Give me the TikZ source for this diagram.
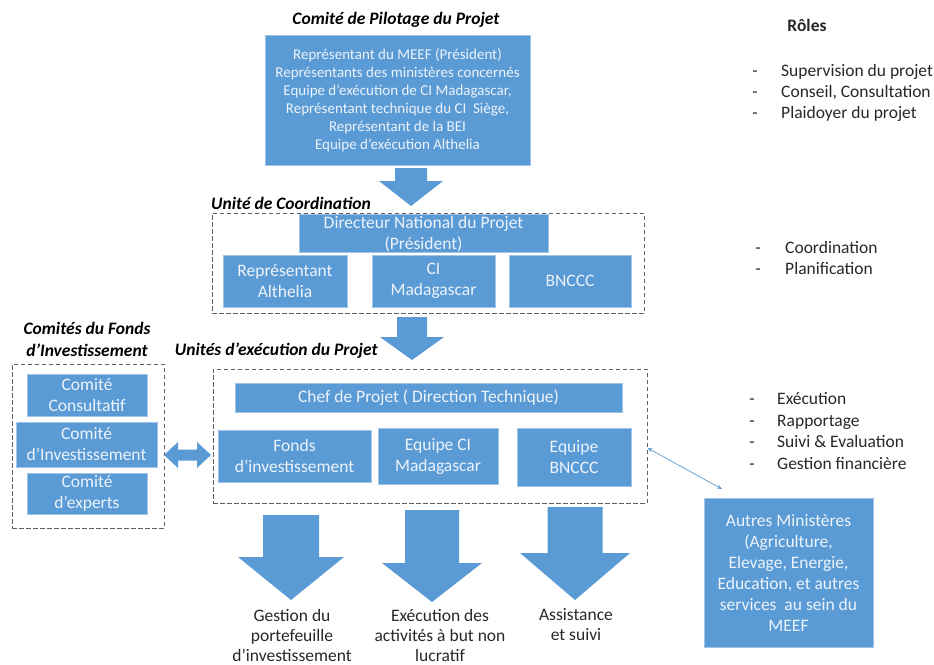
\documentclass[tikz,border=0pt]{standalone}
\usepackage{fontspec}
\setmainfont{Carlito}
\usetikzlibrary{arrows.meta}
\definecolor{boxblue}{RGB}{91,155,213}
\definecolor{boxedge}{RGB}{160,195,232}
\definecolor{boxtext}{RGB}{236,243,250}
\definecolor{dashgray}{RGB}{95,95,95}
\definecolor{roletext}{RGB}{40,40,40}
\newcommand\dnarrow[6]{% cx, shafttop, headtop, tip, shaft half width, head half width
  \fill[boxblue] ({#1-#5},#2) -- ({#1+#5},#2) -- ({#1+#5},#3) -- ({#1+#6},#3) -- (#1,#4) -- ({#1-#6},#3) -- ({#1-#5},#3) -- cycle;}
\begin{document}
\begin{tikzpicture}[x=1pt,y=-1pt,
  box/.style={fill=boxblue, draw=boxedge, line width=0.6pt, inner sep=0pt, text=boxtext, align=center,
    font=\fontsize{17.5}{21}\selectfont},
  boxlbl/.style={inner sep=0pt, text=boxtext, align=center, font=\fontsize{17.5}{21}\selectfont},
  dbox/.style={draw=dashgray, line width=1pt, dash pattern=on 4.5pt off 2.5pt, inner sep=0pt},
  ttl/.style={font=\bfseries\itshape\fontsize{17.5}{22}\selectfont, text=black, inner sep=0pt, align=center},
  role/.style={font=\fontsize{17.5}{21}\selectfont, text=roletext, inner sep=0pt, anchor=base west},
  dashmark/.style={font=\fontsize{17.5}{21}\selectfont, text=roletext, inner sep=0pt, anchor=base},
  lbl/.style={font=\fontsize{17.5}{20}\selectfont, text=roletext, inner sep=0pt, align=center}]
\useasboundingbox (0,0) rectangle (934,664);
\fill[white] (0,0) rectangle (934,664);

% Comite de pilotage
\node[ttl] (tpil) at (396,20) {Comité de Pilotage du Projet};
\node[box, minimum width=265pt, minimum height=130pt, font=\fontsize{15}{18}\selectfont] (pil) at (397.5,100)
 {Représentant du MEEF (Président)\\Représentants des ministères concernés\\Equipe d’exécution de CI Madagascar,\\Représentant technique du CI\ \ Siège,\\Représentant de la BEI\\Equipe d’exécution Althelia};

\dnarrow{411}{168}{181}{206}{16}{32}

% Unite de coordination
\node[ttl, anchor=west] (tcoord) at (211,203) {Unité de Coordination};
\node[dbox, minimum width=432pt, minimum height=100pt] (dcoord) at (428,263) {};
\node[box, minimum width=249pt, minimum height=38pt] (dir) at (423.5,233) {};
\node[boxlbl] (dirt) at (423.5,234) {Directeur National du Projet\\(Président)};
\node[box, minimum width=124pt, minimum height=52pt] (alt) at (285,281) {Représentant\\Althelia};
\node[box, minimum width=123pt, minimum height=52pt] (cim) at (433.5,281) {CI\\Madagascar};
\node[box, minimum width=122pt, minimum height=52pt] (bnc) at (570,281) {BNCCC};

\dnarrow{412}{317}{337}{360}{15}{32}

% Comites du fonds
\node[ttl] (tfonds) at (87,339) {Comités du Fonds\\d’Investissement};
\node[dbox, minimum width=152pt, minimum height=164pt] (dfonds) at (88,446) {};
\node[box, minimum width=120pt, minimum height=42pt] (cons) at (87,395) {};
\node[boxlbl] (const) at (87,395) {Comité\\Consultatif};
\node[box, minimum width=141pt, minimum height=45pt] (cinv) at (86.5,444.5) {};
\node[boxlbl] (cinvt) at (86.5,444.5) {Comité\\d’Investissement};
\node[box, minimum width=120pt, minimum height=41pt] (cexp) at (87,493.5) {};
\node[boxlbl] (cexpt) at (87,493.5) {Comité\\d’experts};

% Unites d'execution
\node[ttl, anchor=east] (texec) at (378,351) {Unités d’exécution du Projet};
\node[dbox, minimum width=434pt, minimum height=134pt] (dexec) at (430,436) {};
\node[box, minimum width=387pt, minimum height=29pt] (chef) at (428.5,397.5) {};
\node[boxlbl] (cheft) at (428.5,397.5) {Chef de Projet ( Direction Technique)};
\node[box, minimum width=153pt, minimum height=52pt] (fonds) at (294.5,456) {Fonds\\d’investissement};
\node[box, minimum width=120pt, minimum height=56pt] (eqci) at (438,456) {Equipe CI\\Madagascar};
\node[box, minimum width=114pt, minimum height=58pt] (eqbn) at (574,457) {Equipe\\BNCCC};

% double arrow between committees and execution units
\fill[boxblue] (164,455) -- (178,442) -- (178,449.5) -- (197,449.5) -- (197,442) -- (211,455)
  -- (197,468) -- (197,460.5) -- (178,460.5) -- (178,468) -- cycle;

% Autres ministeres
\node[box, minimum width=169pt, minimum height=149pt] (autres) at (788.5,572.5)
 {Autres Ministères\\(Agriculture,\\Elevage, Energie,\\Education, et autres\\services\ \ au sein du\\MEEF};
\coordinate (ea) at (dexec.east |- 0,448);
\coordinate (eb) at (722,489);
\draw[{Stealth[length=5pt,width=4pt]}-{Stealth[length=5pt,width=4pt]}, boxblue, line width=0.7pt] (ea) -- (eb);

% bottom arrows
\dnarrow{291}{515}{557}{600}{28}{53}
\dnarrow{432}{510}{563}{602}{27}{50}
\dnarrow{575}{507}{553}{600}{27.5}{55}
\node[lbl] (la) at (292,635) {Gestion du\\portefeuille\\d’investissement};
\node[lbl] (lb) at (440,635) {Exécution des\\activités à but non\\lucratif};
\node[lbl] (lc) at (576,625) {Assistance\\et suivi};

% Roles
\node[font=\bfseries\fontsize{17.5}{20}\selectfont, text=roletext, inner sep=0pt] (roles) at (807,25) {Rôles};
\node[dashmark] (d1) at (755,76) {-}; \node[role] (r1) at (781,76) {Supervision du projet};
\node[dashmark] (d2) at (755,97) {-}; \node[role] (r2) at (781,97) {Conseil, Consultation};
\node[dashmark] (d3) at (755,118) {-}; \node[role] (r3) at (781,118) {Plaidoyer du projet};
\node[dashmark] (d4) at (758,253) {-}; \node[role] (r4) at (785,253) {Coordination};
\node[dashmark] (d5) at (758,274) {-}; \node[role] (r5) at (785,274) {Planification};
\node[dashmark] (d6) at (752,404) {-}; \node[role] (r6) at (777,404) {Exécution};
\node[dashmark] (d7) at (752,426) {-}; \node[role] (r7) at (777,426) {Rapportage};
\node[dashmark] (d8) at (752,447) {-}; \node[role] (r8) at (777,447) {Suivi \& Evaluation};
\node[dashmark] (d9) at (752,469) {-}; \node[role] (r9) at (777,469) {Gestion financière};
\end{tikzpicture}
\end{document}
